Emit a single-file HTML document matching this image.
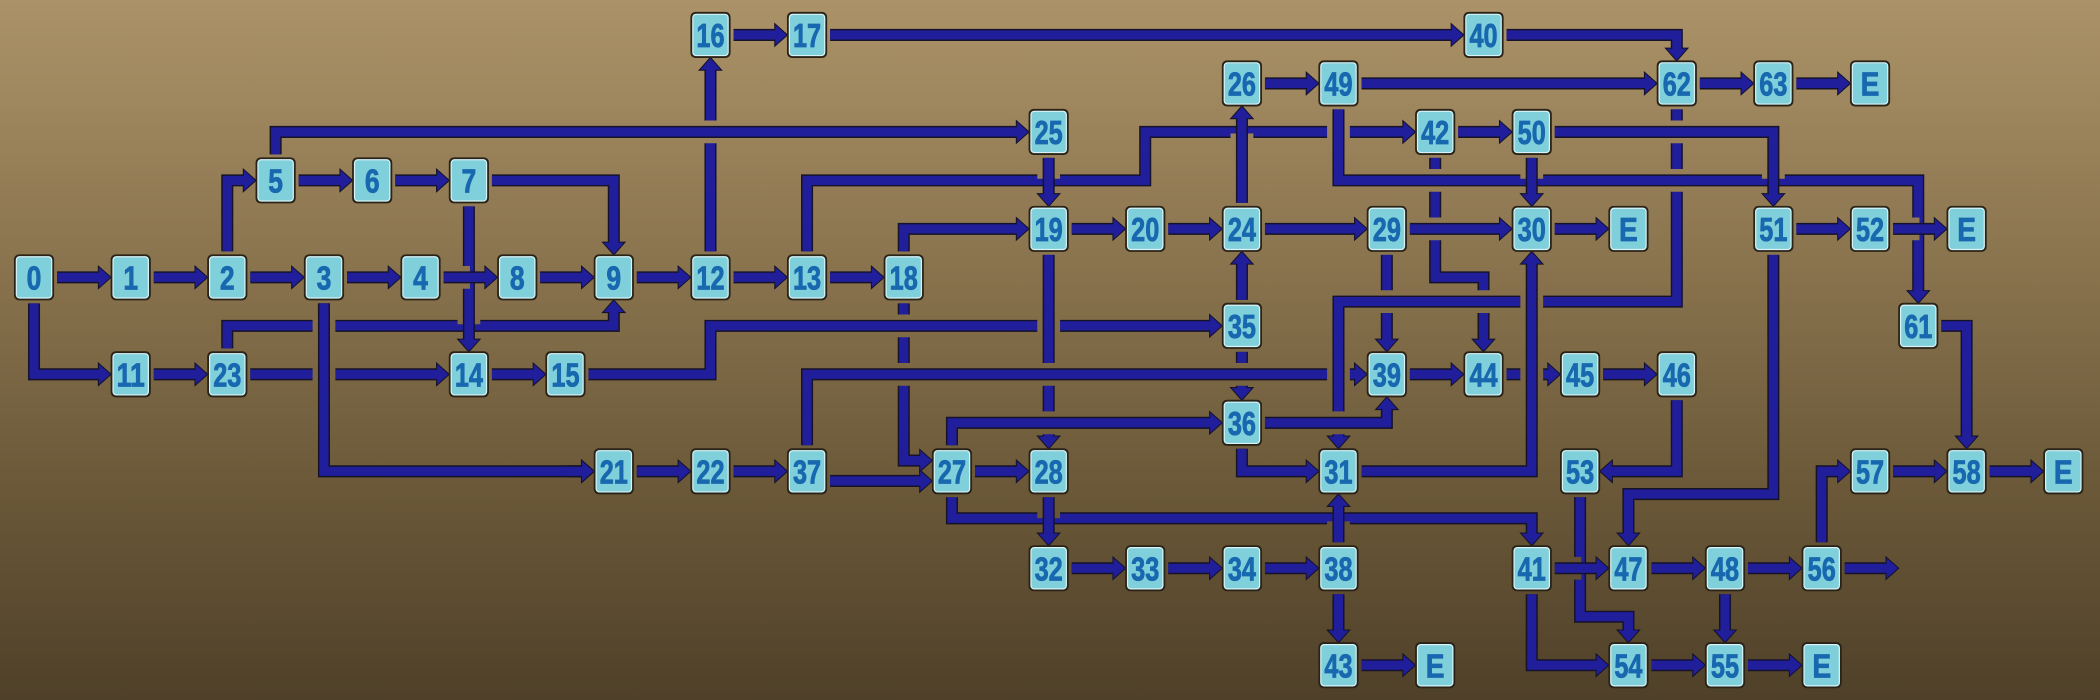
<!DOCTYPE html>
<html><head><meta charset="utf-8">
<style>
html,body{margin:0;padding:0;width:2100px;height:700px;overflow:hidden;}
body{background:linear-gradient(to bottom,#ab9268 0%,#8c7650 35%,#6a5838 70%,#4f4029 100%);}
svg{display:block;}
text.n{font-family:"Liberation Sans Narrow","Liberation Sans",sans-serif;font-weight:bold;font-size:25px;fill:#1868b0;text-anchor:middle;stroke:#1868b0;stroke-width:0.6;}
</style></head>
<body>
<svg id="s" width="2100" height="700" viewBox="0 0 1568 522.67" preserveAspectRatio="none">
<defs>
<linearGradient id="bg" gradientUnits="userSpaceOnUse" x1="0" y1="0" x2="0" y2="522.67">
<stop offset="0" stop-color="#ab9268"/><stop offset="0.35" stop-color="#8c7650"/><stop offset="0.7" stop-color="#6a5838"/><stop offset="1" stop-color="#4f4029"/>
</linearGradient>
</defs>
<g id="edges"></g>
<g id="rects"></g>
<g id="labels">
<text class="n" x="25.4" y="207.1">0</text>
<text class="n" x="97.6" y="207.1">1</text>
<text class="n" x="169.7" y="207.1">2</text>
<text class="n" x="241.9" y="207.1">3</text>
<text class="n" x="314.0" y="207.1">4</text>
<text class="n" x="386.2" y="207.1">8</text>
<text class="n" x="458.3" y="207.1">9</text>
<text class="n" x="530.5" y="207.1">12</text>
<text class="n" x="602.6" y="207.1">13</text>
<text class="n" x="674.8" y="207.1">18</text>
<text class="n" x="97.6" y="279.5">11</text>
<text class="n" x="169.7" y="279.5">23</text>
<text class="n" x="350.1" y="279.5">14</text>
<text class="n" x="422.2" y="279.5">15</text>
<text class="n" x="205.8" y="134.7">5</text>
<text class="n" x="277.9" y="134.7">6</text>
<text class="n" x="350.1" y="134.7">7</text>
<text class="n" x="530.5" y="26.1">16</text>
<text class="n" x="602.6" y="26.1">17</text>
<text class="n" x="1107.7" y="26.1">40</text>
<text class="n" x="927.3" y="62.3">26</text>
<text class="n" x="999.4" y="62.3">49</text>
<text class="n" x="1252.0" y="62.3">62</text>
<text class="n" x="1324.1" y="62.3">63</text>
<text class="n" x="1396.3" y="62.3">E</text>
<text class="n" x="783.0" y="98.5">25</text>
<text class="n" x="1071.6" y="98.5">42</text>
<text class="n" x="1143.7" y="98.5">50</text>
<text class="n" x="783.0" y="170.9">19</text>
<text class="n" x="855.1" y="170.9">20</text>
<text class="n" x="927.3" y="170.9">24</text>
<text class="n" x="1035.5" y="170.9">29</text>
<text class="n" x="1143.7" y="170.9">30</text>
<text class="n" x="1215.9" y="170.9">E</text>
<text class="n" x="1324.1" y="170.9">51</text>
<text class="n" x="1396.3" y="170.9">52</text>
<text class="n" x="1468.4" y="170.9">E</text>
<text class="n" x="927.3" y="243.3">35</text>
<text class="n" x="1432.3" y="243.3">61</text>
<text class="n" x="1035.5" y="279.5">39</text>
<text class="n" x="1107.7" y="279.5">44</text>
<text class="n" x="1179.8" y="279.5">45</text>
<text class="n" x="1252.0" y="279.5">46</text>
<text class="n" x="927.3" y="315.7">36</text>
<text class="n" x="458.3" y="351.9">21</text>
<text class="n" x="530.5" y="351.9">22</text>
<text class="n" x="602.6" y="351.9">37</text>
<text class="n" x="710.8" y="351.9">27</text>
<text class="n" x="783.0" y="351.9">28</text>
<text class="n" x="999.4" y="351.9">31</text>
<text class="n" x="1179.8" y="351.9">53</text>
<text class="n" x="1396.3" y="351.9">57</text>
<text class="n" x="1468.4" y="351.9">58</text>
<text class="n" x="1540.6" y="351.9">E</text>
<text class="n" x="783.0" y="424.3">32</text>
<text class="n" x="855.1" y="424.3">33</text>
<text class="n" x="927.3" y="424.3">34</text>
<text class="n" x="999.4" y="424.3">38</text>
<text class="n" x="1143.7" y="424.3">41</text>
<text class="n" x="1215.9" y="424.3">47</text>
<text class="n" x="1288.0" y="424.3">48</text>
<text class="n" x="1360.2" y="424.3">56</text>
<text class="n" x="999.4" y="496.7">43</text>
<text class="n" x="1071.6" y="496.7">E</text>
<text class="n" x="1215.9" y="496.7">54</text>
<text class="n" x="1288.0" y="496.7">55</text>
<text class="n" x="1360.2" y="496.7">E</text>
</g>
</svg>
<script>
var NS="http://www.w3.org/2000/svg";
function X(c){return 25.4+72.15*c;}
function Y(r){return 26.1+36.2*r;}
var HW=14.2,HH=16.4;
var rects=document.getElementById("rects");
var labels=document.querySelectorAll("text.n");
labels.forEach(function(t){
  var x=+t.getAttribute("x"),y=+t.getAttribute("y");
  var r=document.createElementNS(NS,"rect");
  r.setAttribute("x",x-HW);r.setAttribute("y",y-HH);
  r.setAttribute("width",HW*2);r.setAttribute("height",HH*2);
  r.setAttribute("rx",3);r.setAttribute("fill","#80d0dc");
  r.setAttribute("stroke","#2a2418");r.setAttribute("stroke-width","1.6");
  rects.appendChild(r);
  var r2=document.createElementNS(NS,"rect");
  r2.setAttribute("x",x-HW+1);r2.setAttribute("y",y-HH+1);
  r2.setAttribute("width",HW*2-2);r2.setAttribute("height",HH*2-2);
  r2.setAttribute("rx",2.5);r2.setAttribute("fill","none");
  r2.setAttribute("stroke","#d8f2f5");r2.setAttribute("stroke-width","0.9");
  rects.appendChild(r2);
  t.setAttribute("y",y+9);
  var L=t.textContent.length;
  t.setAttribute("textLength",L==1?(t.textContent=="E"?14:11):21);
  t.setAttribute("lengthAdjust","spacingAndGlyphs");
});
var E=[];
function h(a,b,r){E.push([[a,r],[b,r]]);}
E.push([[3,5],[3,9],[6,9]]);
E.push([[0,5],[0,7],[1,7]]);
h(1,2,7);h(2,4.5,7);h(4.5,5.5,7);
E.push([[2,7],[2,6],[6,6],[6,5]]);
E.push([[3,5],[3,9],[6,9]]);
E.push([[4.5,3],[4.5,7]]);
[0,1,2,3,4,5,6,7,8].forEach(function(c){h(c,c+1,5);});
E.push([[2,5],[2,3],[2.5,3]]);
h(2.5,3.5,3);h(3.5,4.5,3);
E.push([[7,5],[7,0]]);
E.push([[2.5,3],[2.5,2],[10.5,2]]);
E.push([[4.5,3],[6,3],[6,5]]);
h(7,8,0);h(8,15,0);
E.push([[15,0],[17,0],[17,1]]);
E.push([[8,5],[8,3],[11.5,3],[11.5,2],[14.5,2]]);
E.push([[9,5],[9,4],[10.5,4]]);
E.push([[9,5],[9,8.78],[9.5,8.78]]);
E.push([[5.5,7],[7,7],[7,6],[12.5,6]]);
E.push([[10.5,2],[10.5,4]]);
E.push([[10.5,4],[10.5,9]]);
E.push([[12.5,4],[12.5,1]]);
E.push([[12.5,6],[12.5,4]]);
E.push([[12.5,6],[12.5,8]]);
E.push([[8,9],[8,7],[14,7]]);
E.push([[9.5,9],[9.5,8],[12.5,8]]);
E.push([[14,4],[14,7]]);
E.push([[14.5,2],[14.5,5],[15,5],[15,7]]);
E.push([[17,1],[17,5.5],[13.5,5.5],[13.5,9]]);
h(10.5,11.5,4);h(11.5,12.5,4);h(12.5,14,4);h(14,15.5,4);h(15.5,16.5,4);
h(12.5,13.5,1);h(13.5,17,1);h(17,18,1);h(18,19,1);
E.push([[13.5,1],[13.5,3],[19.5,3],[19.5,6]]);
h(14.5,15.5,2);
E.push([[15.5,2],[18,2],[18,4]]);
E.push([[15.5,2],[15.5,4]]);
h(18,19,4);h(19,20,4);
E.push([[18,4],[18,9.47],[16.5,9.47],[16.5,11]]);
E.push([[19.5,6],[20,6],[20,9]]);
h(14,15,7);h(15,16,7);h(16,17,7);
E.push([[17,7],[17,9],[16,9]]);
E.push([[12.5,8],[14,8],[14,7]]);
E.push([[12.5,8],[12.5,9],[13.5,9]]);
E.push([[13.5,9],[15.5,9],[15.5,4]]);
h(6,7,9);h(7,8,9);
E.push([[8,9.2],[9.5,9.2]]);
h(9.5,10.5,9);
E.push([[9.5,9],[9.5,9.97],[15.5,9.97],[15.5,11]]);
E.push([[10.5,9],[10.5,11]]);
h(10.5,11.5,11);h(11.5,12.5,11);h(12.5,13.5,11);
E.push([[13.5,11],[13.5,9]]);
E.push([[13.5,11],[13.5,13]]);
h(13.5,14.5,13);
E.push([[16,9],[16,12],[16.5,12],[16.5,13]]);
h(15.5,16.5,11);h(16.5,17.5,11);h(17.5,18.5,11);h(18.5,19.5,11);
E.push([[15.5,11],[15.5,13],[16.5,13]]);
E.push([[17.5,11],[17.5,13]]);
h(16.5,17.5,13);h(17.5,18.5,13);
E.push([[18.5,11],[18.5,9],[19,9]]);
h(19,20,9);h(20,21,9);

var out="";
var AL=8.5,AW=7.5;
function fmt(pts){return "M"+pts.map(function(q){return q[0].toFixed(1)+","+q[1].toFixed(1);}).join(" L");}
E.forEach(function(e){
  var p=e.map(function(q){return [X(q[0]),Y(q[1])];});
  var a=p[0],b=p[1];
  var sdx=0,sdy=0;
  if(Math.abs(a[1]-b[1])<0.01){sdx=(b[0]>a[0]?1:-1);a[0]+=sdx*(HW+3);}else{sdy=(b[1]>a[1]?1:-1);a[1]+=sdy*(HH+3);}
  var n=p.length,t=p[n-1],s=p[n-2];
  var dx=0,dy=0;
  if(Math.abs(t[1]-s[1])<0.01){dx=t[0]>s[0]?1:-1;t[0]-=dx*(HW+1);}else{dy=t[1]>s[1]?1:-1;t[1]-=dy*(HH+1);}
  var tip=[t[0],t[1]];
  var base=[t[0]-dx*AL,t[1]-dy*AL];
  var pts=p.slice(0,n-1).concat([[base[0]+dx*0.5,base[1]+dy*0.5]]);
  var d=fmt(pts);
  // halo path shortened at both ends
  var hp=pts.map(function(q){return [q[0],q[1]];});
  hp[0]=[hp[0][0]+sdx*9,hp[0][1]+sdy*9];
  var hl=hp.length-1;
  hp[hl]=[hp[hl][0]-dx*12,hp[hl][1]-dy*12];
  var px=-dy,py=dx;
  var tri="M"+tip[0]+","+tip[1]+" L"+(base[0]+px*AW)+","+(base[1]+py*AW)+" L"+(base[0]-px*AW)+","+(base[1]-py*AW)+"Z";
  out+='<path d="'+fmt(hp)+'" fill="none" stroke="url(#bg)" stroke-width="17" stroke-linejoin="miter"/>';
  out+='<path d="'+d+'" fill="none" stroke="#15122a" stroke-width="9" stroke-linejoin="miter"/>';
  out+='<path d="'+tri+'" fill="#15122a" stroke="#15122a" stroke-width="1.6" stroke-linejoin="miter"/>';
  out+='<path d="'+d+'" fill="none" stroke="#211e9c" stroke-width="6.8" stroke-linejoin="miter"/>';
  out+='<path d="'+tri+'" fill="#211e9c"/>';
});
document.getElementById("edges").innerHTML=out;
</script>
</body></html>
